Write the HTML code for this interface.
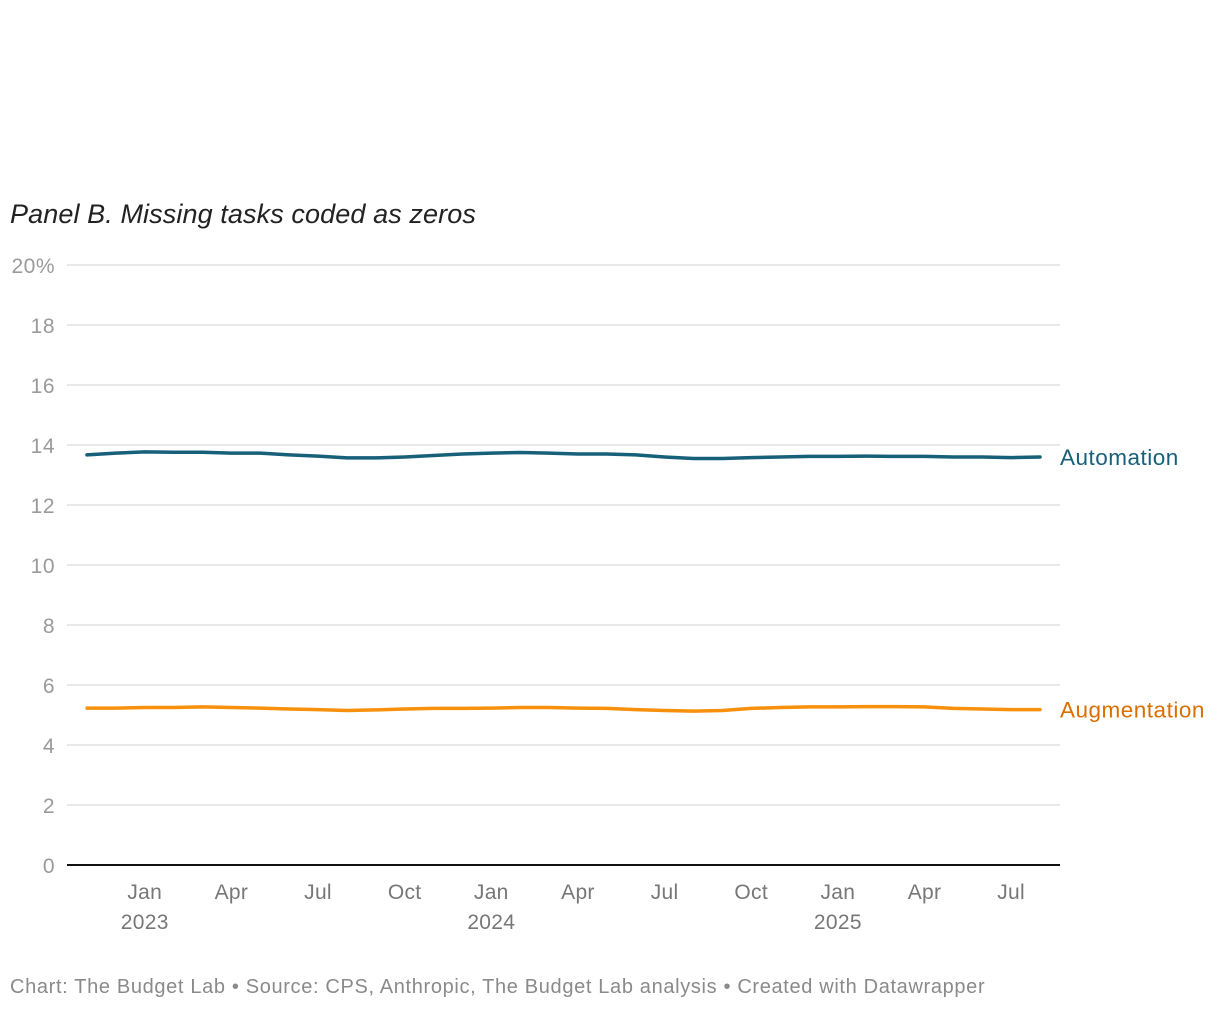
<!DOCTYPE html>
<html><head><meta charset="utf-8"><style>
body{margin:0;background:#fff;font-family:"Liberation Sans",sans-serif;}
#wrap{position:relative;width:1220px;height:1012px;}
#title{position:absolute;left:10px;top:199px;font-size:27px;font-style:italic;color:#222;letter-spacing:0.1px;}
#foot{position:absolute;left:10px;top:976px;font-size:20px;color:#8a8a8a;letter-spacing:0.65px;}
</style></head><body>
<div id="wrap">
<div id="title">Panel B. Missing tasks coded as zeros</div>
<svg id="svg" width="1220" height="1012" style="position:absolute;left:0;top:0"></svg>
<div id="foot">Chart: The Budget Lab • Source: CPS, Anthropic, The Budget Lab analysis • Created with Datawrapper</div>
</div>
<script>
const yTicks=[0,2,4,6,8,10,12,14,16,18,20];
const xTickLabels=["Jan","Apr","Jul","Oct","Jan","Apr","Jul","Oct","Jan","Apr","Jul"];
const xTickMonths=[2,5,8,11,14,17,20,23,26,29,32];
const yearLabels=["2023","2024","2025"];
const yearMonths=[2,14,26];
const automation=[13.67,13.73,13.77,13.76,13.76,13.73,13.73,13.67,13.63,13.57,13.57,13.6,13.65,13.7,13.73,13.75,13.73,13.7,13.7,13.67,13.6,13.55,13.55,13.58,13.6,13.62,13.62,13.63,13.62,13.62,13.6,13.6,13.58,13.6];
const augmentation=[5.23,5.23,5.25,5.25,5.27,5.25,5.23,5.2,5.18,5.15,5.17,5.2,5.22,5.22,5.23,5.25,5.25,5.23,5.22,5.18,5.15,5.13,5.15,5.22,5.25,5.27,5.27,5.28,5.28,5.27,5.22,5.2,5.18,5.18];
const NS="http://www.w3.org/2000/svg";
const svg=document.getElementById('svg');
const x=i=>87+i*(1040-87)/33;
const y=v=>865-v*30;
function mk(t,a){const e=document.createElementNS(NS,t);for(const k in a)e.setAttribute(k,a[k]);svg.appendChild(e);return e;}
yTicks.forEach(v=>{
 if(v>0){const g=mk('line',{x1:67,x2:1060,y1:y(v),y2:y(v),stroke:'#e0e0e0','stroke-width':1.5});
 
 }
 const t=mk('text',{x:55,y:y(v)+8,'text-anchor':'end','font-size':21,fill:'#9a9a9a','letter-spacing':0.5});
 t.textContent=v===20?'20%':v;
 
 
});
const ax=mk('line',{x1:67,x2:1060,y1:865,y2:865,stroke:'#111','stroke-width':2});


xTickLabels.forEach((l,i)=>{
 const t=mk('text',{x:x(xTickMonths[i]),y:899,'text-anchor':'middle','font-size':21,fill:'#777','letter-spacing':0.3});
 t.textContent=l;
 
 
});
yearLabels.forEach((l,i)=>{
 const t=mk('text',{x:x(yearMonths[i]),y:929,'text-anchor':'middle','font-size':21,fill:'#777','letter-spacing':0.3});
 t.textContent=l;
 
 
});
function series(d,c,name,lc,label){
 const p=mk('polyline',{points:d.map((v,i)=>x(i)+','+y(v)).join(' '),fill:'none',stroke:c,'stroke-width':3.5,'stroke-linejoin':'round','stroke-linecap':'round'});
 
 
 const t=mk('text',{x:1060,y:y(d[d.length-1])+8,'font-size':22.5,fill:lc,'letter-spacing':0.5});
 t.textContent=label;
 
 
}
series(automation,'#17607a','automation','#17607a','Automation');
series(augmentation,'#f7900d','augmentation','#d96f00','Augmentation');
</script>
</body></html>
